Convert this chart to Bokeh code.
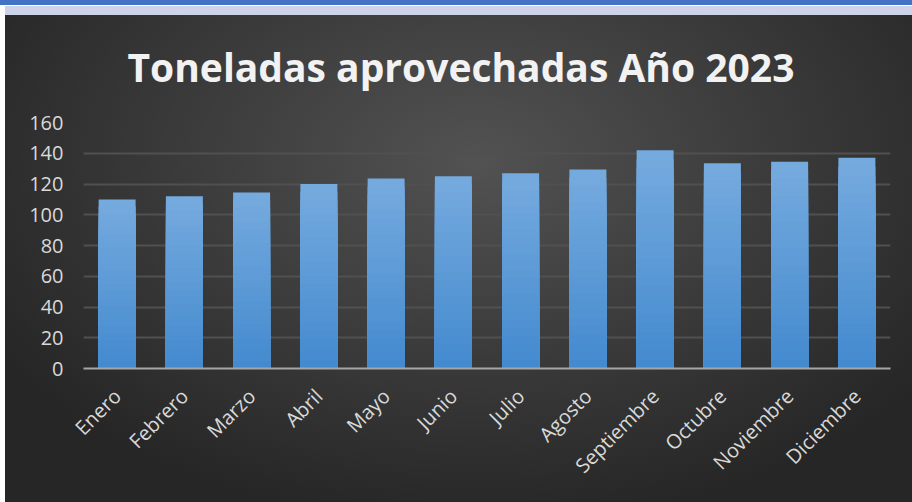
from bokeh.plotting import figure
from bokeh.models import FactorRange, FixedTicker, ColumnDataSource
from bokeh.embed import file_html
from bokeh.resources import INLINE
from math import pi

months = ["Enero", "Febrero", "Marzo", "Abril", "Mayo", "Junio", "Julio",
          "Agosto", "Septiembre", "Octubre", "Noviembre", "Diciembre"]
tons = [110, 112, 114.5, 120, 123.5, 125, 127, 129.5, 142, 133.5, 134.5, 137]
y_ticks = [0, 20, 40, 60, 80, 100, 120, 140, 160]
title_text = "Toneladas aprovechadas Año 2023"

W, H = 912, 502
p = figure(width=W, height=H, x_range=FactorRange(factors=months, range_padding=0),
           y_range=(0, 160), output_backend="svg", toolbar_location=None,
           min_border_left=83, min_border_right=22, min_border_top=122, min_border_bottom=134)

p.styles = {
    "background": (
        "linear-gradient(#4472C4,#4472C4) 0 0/100% 5px no-repeat,"
        "linear-gradient(#CDD4EA,#CDD4EA) 5px 6px/907px 9px no-repeat,"
        "radial-gradient(ellipse 62% 75% at 52% 30%, #525252 0%, #3c3c3c 50%, #262626 100%) 5px 15px/907px 487px no-repeat,"
        "#ffffff"
    ),
}
p.background_fill_color = None
p.border_fill_color = None
p.outline_line_color = None

# gradient-like bars: layered bars, lighter on top, darker to the bottom
top_rgb = (117, 170, 222)
bot_rgb = (66, 137, 206)
N = 24
for k in range(N):
    f = k / N
    c = tuple(int(round(top_rgb[i] + (bot_rgb[i] - top_rgb[i]) * f)) for i in range(3))
    src = ColumnDataSource(dict(x=months, top=[v * (1 - f) for v in tons]))
    p.vbar(x="x", top="top", bottom=0, width=0.55, source=src,
           fill_color="#%02x%02x%02x" % c, line_color=None)

p.title.text = title_text
p.title.text_font = "Open Sans"
p.title.text_font_style = "bold"
p.title.text_font_size = "39px"
p.title.text_color = "#F2F2F2"
p.title.align = "left"
p.title.offset = 44
p.title.standoff = 60

p.xgrid.grid_line_color = None
p.ygrid.grid_line_color = "#505050"
p.ygrid.grid_line_width = 2
p.yaxis.ticker = FixedTicker(ticks=y_ticks)

for ax in (p.xaxis, p.yaxis):
    ax.major_tick_line_color = None
    ax.minor_tick_line_color = None
    ax.major_tick_out = 0
    ax.major_tick_in = 0
    ax.major_label_text_font = "Open Sans"
    ax.major_label_text_font_size = "20px"
    ax.major_label_text_color = "#D9D9D9"

p.yaxis.axis_line_color = None
p.yaxis.major_label_standoff = 20
p.xaxis.axis_line_color = "#A6A6A6"
p.xaxis.axis_line_width = 2
p.xaxis.major_label_orientation = pi / 4
p.xaxis.major_label_standoff = 24

open("out.html", "w").write(file_html(p, INLINE))
